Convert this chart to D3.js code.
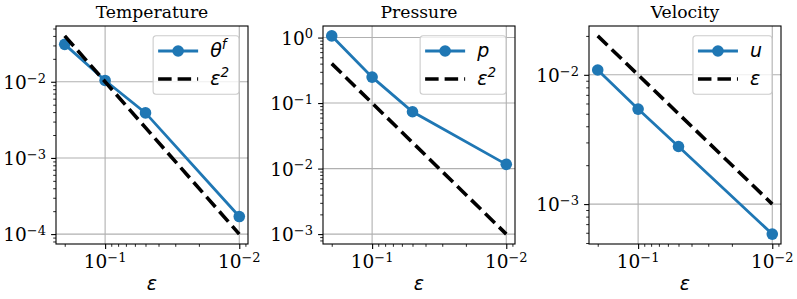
<!DOCTYPE html>
<html><head><meta charset="utf-8">
<script src="https://cdn.jsdelivr.net/npm/d3@7"></script>
<style>body{margin:0;background:#fff} svg{display:block}</style>
</head><body><svg id="c" width="797" height="299"></svg>
<script>
// ---- data ----
const eps = [0.2, 0.1, 0.05, 0.01];
const tempErr = [0.031, 0.0104, 0.0039, 0.00017];
const presErr = [1.06, 0.249, 0.0737, 0.0116];
const velErr = [0.0109, 0.00543, 0.00279, 0.000586];
const tempRef = [0.04, 0.01, 0.0025, 0.0001];      // eps^2
const presRef = [0.4, 0.1, 0.025, 0.001];          // 10 eps^2
const velRef = [0.02, 0.01, 0.005, 0.001];         // 0.1 eps
const titles = ["Temperature", "Pressure", "Velocity"];
const seriesLabels = [["θ", "f"], ["p", ""], ["u", ""]];
const refLabels = [["ε", "2"], ["ε", "2"], ["ε", ""]];
const xMajorTicks = [0.1, 0.01];
const yMajorTicks = [[1e-2, 1e-3, 1e-4], [1, 0.1, 0.01, 0.001], [1e-2, 1e-3]];
const xLabel = "ε";

const errs = [tempErr, presErr, velErr];
const refs = [tempRef, presRef, velRef];

// ---- layout ----
const svg = d3.select("#c");
const lefts = [56, 323, 589];
const W = 192, T = 26, B = 244;
const blue = "#1f77b4";
const serif = "DejaVu Serif";
const sans = "DejaVu Sans";
const tickFs = 18.5, supFs = 13;

function logPad(lo, hi) {
  const a = Math.log10(lo), b = Math.log10(hi), m = 0.05 * (b - a);
  return [Math.pow(10, a - m), Math.pow(10, b + m)];
}
function minorTicks(dom) {
  const lo = Math.min(...dom), hi = Math.max(...dom), out = [];
  for (let k = Math.floor(Math.log10(lo)); k <= Math.ceil(Math.log10(hi)); k++)
    for (let m = 2; m <= 9; m++) { const v = m * Math.pow(10, k); if (v >= lo && v <= hi) out.push(v); }
  return out;
}
function powLabel(sel, v) {
  const e = Math.round(Math.log10(v));
  sel.text("10");
  sel.append("tspan").attr("dy", -6.5).attr("font-size", supFs).text(e < 0 ? "\u2212" + (-e) : String(e));
}

for (let i = 0; i < 3; i++) {
  const L = lefts[i], R = L + W;
  const g = svg.append("g");
  const xd = logPad(d3.min(eps), d3.max(eps));
  const x = d3.scaleLog().domain([xd[1], xd[0]]).range([L, R]);
  const allY = errs[i].concat(refs[i]);
  const yd = logPad(d3.min(allY), d3.max(allY));
  const y = d3.scaleLog().domain(yd).range([B, T]);

  // grid
  g.append("g").selectAll("line").data(xMajorTicks).join("line")
    .attr("x1", d => x(d)).attr("x2", d => x(d)).attr("y1", T).attr("y2", B)
    .attr("stroke", "#b0b0b0").attr("stroke-width", 1.1);
  g.append("g").selectAll("line").data(yMajorTicks[i]).join("line")
    .attr("y1", d => y(d)).attr("y2", d => y(d)).attr("x1", L).attr("x2", R)
    .attr("stroke", "#b0b0b0").attr("stroke-width", 1.1);

  // series
  const line = d3.line().x(d => x(d[0])).y(d => y(d[1]));
  const pts = eps.map((e, j) => [e, errs[i][j]]);
  const rpts = eps.map((e, j) => [e, refs[i][j]]);
  const data = g.append("g");
  data.append("path").attr("d", line(pts)).attr("fill", "none").attr("stroke", blue).attr("stroke-width", 2.8);
  data.selectAll("circle").data(pts).join("circle")
    .attr("cx", d => x(d[0])).attr("cy", d => y(d[1])).attr("r", 5.8).attr("fill", blue);
  data.append("path").attr("d", line(rpts)).attr("fill", "none").attr("stroke", "#000")
    .attr("stroke-width", 3.6).attr("stroke-dasharray", "13.5 6");

  // axes ticks
  const xa = g.append("g").attr("transform", `translate(0,${B})`);
  xa.call(d3.axisBottom(x).tickValues(xMajorTicks).tickSize(4.9).tickFormat(""));
  const xm = g.append("g").attr("transform", `translate(0,${B})`);
  xm.call(d3.axisBottom(x).tickValues(minorTicks(x.domain())).tickSize(2.8).tickFormat(""));
  const ya = g.append("g").attr("transform", `translate(${L},0)`);
  ya.call(d3.axisLeft(y).tickValues(yMajorTicks[i]).tickSize(4.9).tickFormat(""));
  const ym = g.append("g").attr("transform", `translate(${L},0)`);
  ym.call(d3.axisLeft(y).tickValues(minorTicks(y.domain())).tickSize(2.8).tickFormat(""));
  [xa, ya].forEach(a => { a.selectAll(".domain").remove(); a.selectAll(".tick line").attr("stroke", "#000").attr("stroke-width", 1.1); });
  [xm, ym].forEach(a => { a.selectAll(".domain").remove(); a.selectAll(".tick line").attr("stroke", "#000").attr("stroke-width", 0.85); });

  // spines
  g.append("rect").attr("x", L).attr("y", T).attr("width", W).attr("height", B - T)
    .attr("fill", "none").attr("stroke", "#000").attr("stroke-width", 1.1);

  // tick labels
  xMajorTicks.forEach(v => {
    g.append("text").attr("x", x(v)).attr("y", 268).attr("text-anchor", "middle")
      .attr("font-family", serif).attr("font-size", tickFs).call(powLabel, v);
  });
  yMajorTicks[i].forEach(v => {
    g.append("text").attr("x", L - 10).attr("y", y(v) + 7.3).attr("text-anchor", "end")
      .attr("font-family", serif).attr("font-size", tickFs).call(powLabel, v);
  });

  // title and xlabel
  g.append("text").attr("x", (L + R) / 2).attr("y", 18).attr("text-anchor", "middle")
    .attr("font-family", serif).attr("font-size", 17.2).text(titles[i]);
  g.append("text").attr("x", (L + R) / 2).attr("y", 290).attr("text-anchor", "middle")
    .attr("font-family", sans).attr("font-style", "italic").attr("font-size", 19).text(xLabel);

  // legend
  const lg = g.append("g");
  const box = lg.append("rect");
  const rows = [[seriesLabels[i], "s"], [refLabels[i], "r"]];
  const texts = [];
  rows.forEach((r, k) => {
    const cy = 15.3 + k * 28;
    const t = lg.append("text").attr("x", 57).attr("y", cy + 6.5)
      .attr("font-family", sans).attr("font-style", "italic").attr("font-size", 19).text(r[0][0]);
    if (r[0][1]) t.append("tspan").attr("dy", -8).attr("font-size", 13.5).text(r[0][1]);
    texts.push(t);
    if (r[1] === "s") {
      lg.append("line").attr("x1", 5).attr("x2", 45).attr("y1", cy).attr("y2", cy).attr("stroke", blue).attr("stroke-width", 2.8);
      lg.append("circle").attr("cx", 25).attr("cy", cy).attr("r", 5.8).attr("fill", blue);
    } else {
      lg.append("line").attr("x1", 5).attr("x2", 45).attr("y1", cy).attr("y2", cy).attr("stroke", "#000")
        .attr("stroke-width", 3.6).attr("stroke-dasharray", "13.5 6");
    }
  });
  const tw = d3.max(texts, t => t.node().getComputedTextLength());
  const lw = Math.max(57 + tw + 10, 77);
  box.attr("x", 0).attr("y", 0).attr("width", lw).attr("height", 58.6).attr("rx", 3)
    .attr("fill", "#fff").attr("fill-opacity", 0.8).attr("stroke", "#cccccc").attr("stroke-width", 1.1);
  lg.attr("transform", `translate(${R - 9 - lw},${T + 9.7})`);
}
</script></body></html>
